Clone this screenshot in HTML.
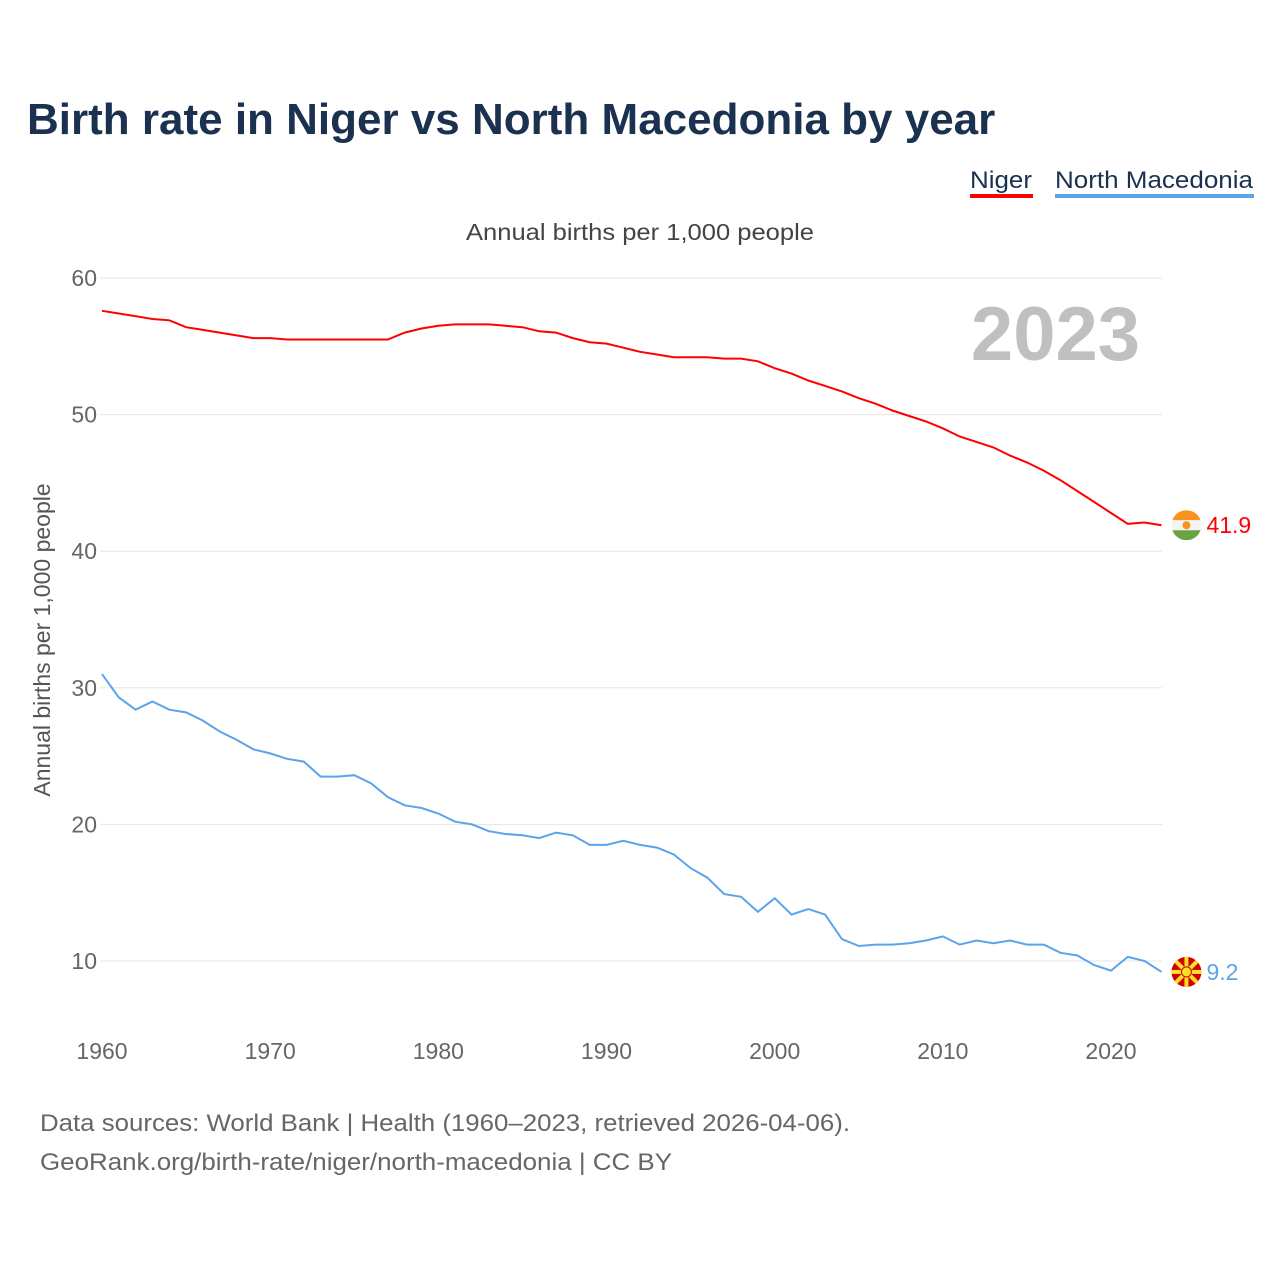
<!DOCTYPE html>
<html><head><meta charset="utf-8">
<style>
body{margin:0;background:#fff;}
svg{display:block;font-family:"Liberation Sans",sans-serif;}
</style></head>
<body>
<svg id="chart" width="1280" height="1280" viewBox="0 0 1280 1280">
<text x="27" y="134" font-size="44" font-weight="bold" fill="#1b3150">Birth rate in Niger vs North Macedonia by year</text>
<g>
<g><text x="970" y="188" font-size="24" fill="#1b3150" textLength="62" lengthAdjust="spacingAndGlyphs">Niger</text><rect x="970" y="194" width="63" height="4" fill="#ff0000"/></g>
<g><text x="1055" y="188" font-size="24" fill="#1b3150" textLength="198" lengthAdjust="spacingAndGlyphs">North Macedonia</text><rect x="1055" y="194" width="199" height="4" fill="#5ba4ea"/></g>
</g>
<text x="466" y="240" font-size="23" fill="#444" textLength="348" lengthAdjust="spacingAndGlyphs">Annual births per 1,000 people</text>
<text x="1140" y="360" font-size="76" font-weight="bold" fill="#c0c0c0" text-anchor="end">2023</text>
<text transform="translate(50,640) rotate(-90)" font-size="23" fill="#555" text-anchor="middle">Annual births per 1,000 people</text>
<g id="grid"></g><g id="yt"></g><g id="xt"></g><g id="lines"></g>
<text x="40" y="1131" font-size="24" fill="#666" textLength="810" lengthAdjust="spacingAndGlyphs">Data sources: World Bank | Health (1960–2023, retrieved 2026-04-06).</text>
<text x="40" y="1170" font-size="24" fill="#666" textLength="632" lengthAdjust="spacingAndGlyphs">GeoRank.org/birth-rate/niger/north-macedonia | CC BY</text>
</svg>
<script>
const years=[];for(let y=1960;y<=2023;y++)years.push(y);
const niger=[57.6,57.4,57.2,57.0,56.9,56.4,56.2,56.0,55.8,55.6,55.6,55.5,55.5,55.5,55.5,55.5,55.5,55.5,56.0,56.3,56.5,56.6,56.6,56.6,56.5,56.4,56.1,56.0,55.6,55.3,55.2,54.9,54.6,54.4,54.2,54.2,54.2,54.1,54.1,53.9,53.4,53.0,52.5,52.1,51.7,51.2,50.8,50.3,49.9,49.5,49.0,48.4,48.0,47.6,47.0,46.5,45.9,45.2,44.4,43.6,42.8,42.0,42.1,41.9];
const macedonia=[31.0,29.3,28.4,29.0,28.4,28.2,27.6,26.8,26.2,25.5,25.2,24.8,24.6,23.5,23.5,23.6,23.0,22.0,21.4,21.2,20.8,20.2,20.0,19.5,19.3,19.2,19.0,19.4,19.2,18.5,18.5,18.8,18.5,18.3,17.8,16.8,16.1,14.9,14.7,13.6,14.6,13.4,13.8,13.4,11.6,11.1,11.2,11.2,11.3,11.5,11.8,11.2,11.5,11.3,11.5,11.2,11.2,10.6,10.4,9.7,9.3,10.3,10.0,9.2];
const yTicks=[10,20,30,40,50,60];
const xTicks=[1960,1970,1980,1990,2000,2010,2020];
const NS="http://www.w3.org/2000/svg";
const X=y=>102+(y-1960)*(1111-102)/60;
const Y=v=>961-(v-10)*(961-278)/50;
function mk(tag,attrs,parent){const e=document.createElementNS(NS,tag);for(const k in attrs)e.setAttribute(k,attrs[k]);parent.appendChild(e);return e;}
const grid=document.getElementById('grid'),yt=document.getElementById('yt'),xt=document.getElementById('xt'),lines=document.getElementById('lines');
yTicks.forEach(v=>{
 const l=mk('line',{x1:100,x2:1162,y1:Y(v),y2:Y(v),stroke:'#e6e6e6','stroke-width':1},grid);
 
 
 const t=mk('text',{x:97,y:Y(v)+8,'font-size':23,fill:'#666','text-anchor':'end'},yt);
 t.textContent=v;
 
 
});
xTicks.forEach(v=>{
 const t=mk('text',{x:X(v),y:1059,'font-size':23,fill:'#666','text-anchor':'middle'},xt);
 t.textContent=v;
 
 
});
function series(vals,color,name){
 const p=mk('path',{d:vals.map((v,i)=>(i?'L':'M')+X(years[i]).toFixed(1)+','+Y(v).toFixed(1)).join(''),fill:'none',stroke:color,'stroke-width':2},lines);
 
 
 const last=vals[vals.length-1],cy=Y(last),cx=X(2023)+25;
 const g=mk('g',{},lines);
 
 
 if(name==='niger'){
  mk('clipPath',{id:'cn'},g);mk('circle',{cx:cx,cy:cy,r:15},g.firstChild);
  const gg=mk('g',{'clip-path':'url(#cn)'},g);
  mk('rect',{x:cx-15,y:cy-15,width:30,height:10,fill:'#f7931e'},gg);
  mk('rect',{x:cx-15,y:cy-5,width:30,height:10,fill:'#f4f4f4'},gg);
  mk('rect',{x:cx-15,y:cy+5,width:30,height:10,fill:'#6aa442'},gg);
  mk('circle',{cx:cx,cy:cy,r:4,fill:'#f7931e'},gg);
 }else{
  mk('circle',{cx:cx,cy:cy,r:15,fill:'#d20000'},g);
  for(let a=0;a<8;a++){const an=a*Math.PI/4;mk('line',{x1:cx,y1:cy,x2:cx+15*Math.cos(an),y2:cy+15*Math.sin(an),stroke:'#f8e02a','stroke-width':4},g);}
  mk('circle',{cx:cx,cy:cy,r:5,fill:'#f8e02a',stroke:'#d20000','stroke-width':1},g);
 }
 const t=mk('text',{x:cx+20,y:cy+8,'font-size':23,fill:color},lines);
 t.textContent=last;
 
 
}
series(niger,'#ff0000','niger');
series(macedonia,'#5ba4ea','north-macedonia');
</script>
</body></html>
